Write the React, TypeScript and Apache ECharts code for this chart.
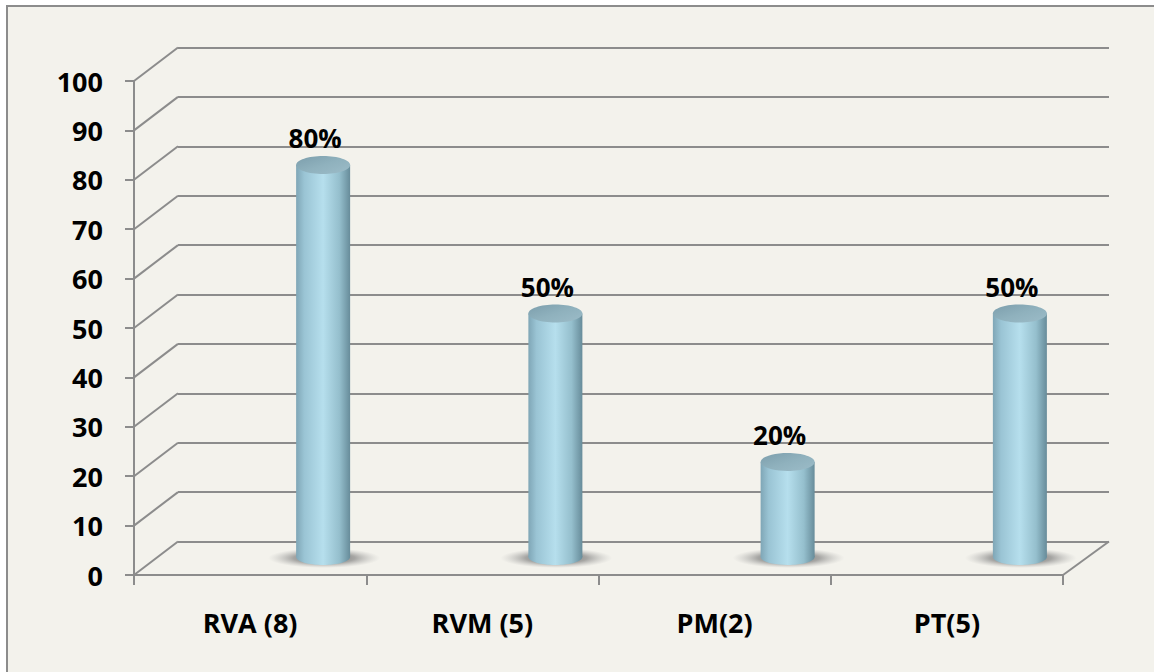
import React, { useEffect, useRef } from "react";
import * as echarts from "echarts";

const categories = ["RVA (8)", "RVM (5)", "PM(2)", "PT(5)"];
const values = [80, 50, 20, 50];
const yTicks = [0, 10, 20, 30, 40, 50, 60, 70, 80, 90, 100];

const FONT = "'Open Sans', Lato, sans-serif";
const WEIGHT = "bold";
const GRID_COLOR = "#8c8c8c";
const DX = 44;
const DY = -33.5;

export default function App() {
  const ref = useRef<HTMLDivElement>(null);

  useEffect(() => {
    if (!ref.current) return;
    const chart = echarts.init(ref.current, undefined, { renderer: "svg" });

    const option: any = {
      animation: false,
      backgroundColor: "#ffffff",
      graphic: [
        {
          type: "rect",
          z: -100,
          zlevel: 0,
          shape: { x: 7, y: 6, width: 1200, height: 720 },
          style: { fill: "#f3f2ec", stroke: "#8c8c8c", lineWidth: 2 },
          silent: true,
        },
      ],
      grid: [
        { left: 134, top: 81, width: 929, height: 494 },
        { left: 178, top: 47.5, width: 931, height: 494 },
        { left: 207, top: 66, width: 929, height: 495 },
      ],
      xAxis: [
        {
          gridIndex: 0,
          type: "category",
          data: categories,
          boundaryGap: true,
          axisLine: { show: true, lineStyle: { color: GRID_COLOR, width: 2 } },
          axisTick: { show: true, length: 10, lineStyle: { color: GRID_COLOR, width: 2 } },
          axisLabel: {
            margin: 34,
            fontSize: 27,
            fontWeight: WEIGHT,
            color: "#000",
            fontFamily: FONT,
          },
          splitLine: { show: false },
        },
        { gridIndex: 1, type: "category", data: categories, show: false },
        { gridIndex: 2, type: "category", data: categories, show: false },
      ],
      yAxis: [
        {
          gridIndex: 0,
          type: "value",
          min: 0,
          max: 100,
          interval: 10,
          axisLine: { show: true, lineStyle: { color: GRID_COLOR, width: 2 } },
          axisTick: { show: true, length: 9, lineStyle: { color: GRID_COLOR, width: 2 } },
          axisLabel: {
            margin: 31,
            fontSize: 27,
            fontWeight: WEIGHT,
            color: "#000",
            fontFamily: FONT,
          },
          splitLine: { show: false },
        },
        {
          gridIndex: 1,
          type: "value",
          min: 0,
          max: 100,
          interval: 10,
          axisLine: { show: false },
          axisTick: { show: false },
          axisLabel: { show: false },
          splitLine: { show: true, lineStyle: { color: GRID_COLOR, width: 2 } },
        },
        { gridIndex: 2, type: "value", min: 0, max: 100, show: false },
      ],
      series: [
        {
          type: "custom",
          xAxisIndex: 0,
          yAxisIndex: 0,
          clip: false,
          silent: true,
          z: 1,
          data: yTicks.map((v) => [0, v]),
          encode: { x: 0, y: 1 },
          renderItem: (params: any, api: any) => {
            const v = api.value(1);
            const y = api.coord([0, v])[1];
            const cs = params.coordSys;
            const x0 = cs.x;
            const children: any[] = [
              {
                type: "line",
                shape: { x1: x0, y1: y, x2: x0 + DX, y2: y + DY },
                style: { stroke: GRID_COLOR, lineWidth: 2 },
              },
            ];
            if (v === 0) {
              const x1 = cs.x + cs.width;
              children.push({
                type: "line",
                shape: { x1: x1, y1: y, x2: x1 + DX + 2, y2: y + DY },
                style: { stroke: GRID_COLOR, lineWidth: 2 },
              });
            }
            return { type: "group", children };
          },
        },
        {
          type: "custom",
          xAxisIndex: 2,
          yAxisIndex: 2,
          clip: false,
          silent: true,
          z: 5,
          data: values.map((v, i) => [i, v]),
          encode: { x: 0, y: 1 },
          renderItem: (params: any, api: any) => {
            const idx = api.value(0);
            const v = api.value(1);
            const top = api.coord([idx, v]);
            const base = api.coord([idx, 0]);
            const cx = top[0];
            const ty = top[1];
            const by = base[1] - 4;
            const rx = 27;
            const bodyGrad = new echarts.graphic.LinearGradient(0, 0, 1, 0, [
              { offset: 0, color: "#7fa6b6" },
              { offset: 0.15, color: "#9ac4d4" },
              { offset: 0.5, color: "#b6dfed" },
              { offset: 0.8, color: "#95bfcd" },
              { offset: 1, color: "#678c9a" },
            ]);
            const topGrad = new echarts.graphic.LinearGradient(0, 0, 1, 1, [
              { offset: 0, color: "#7c9eac" },
              { offset: 0.5, color: "#8fb1bd" },
              { offset: 1, color: "#9cbcc8" },
            ]);
            const shadowGrad = new echarts.graphic.RadialGradient(0.5, 0.5, 0.5, [
              { offset: 0, color: "rgba(85,85,85,0.9)" },
              { offset: 0.55, color: "rgba(115,115,115,0.6)" },
              { offset: 1, color: "rgba(170,170,170,0)" },
            ]);
            return {
              type: "group",
              children: [
                {
                  type: "ellipse",
                  shape: { cx: cx + 1, cy: by + 1, rx: 56, ry: 10 },
                  style: { fill: shadowGrad },
                },
                {
                  type: "ellipse",
                  shape: { cx: cx, cy: by, rx: rx, ry: 8 },
                  style: { fill: bodyGrad },
                },
                {
                  type: "rect",
                  shape: { x: cx - rx, y: ty, width: rx * 2, height: by - ty },
                  style: { fill: bodyGrad },
                },
                {
                  type: "ellipse",
                  shape: { cx: cx, cy: ty, rx: rx, ry: 9 },
                  style: { fill: topGrad },
                },
                {
                  type: "text",
                  style: {
                    text: v + "%",
                    x: cx - 8,
                    y: ty - 27,
                    align: "center",
                    verticalAlign: "middle",
                    fontSize: 26,
                    fontWeight: WEIGHT,
                    fontFamily: FONT,
                    fill: "#000",
                  },
                },
              ],
            };
          },
        },
      ],
    };

    chart.setOption(option);
    return () => chart.dispose();
  }, []);

  return (
    <div
      ref={ref}
      style={{ position: "absolute", left: 0, top: 0, width: 1154, height: 672 }}
    />
  );
}
